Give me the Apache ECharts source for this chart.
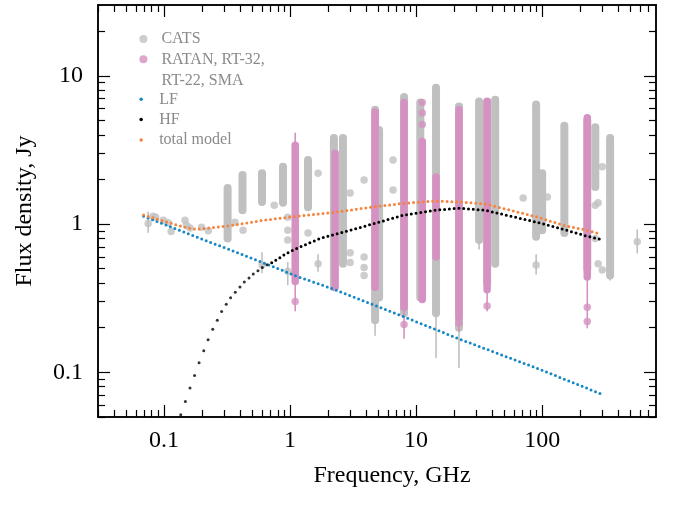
<!DOCTYPE html>
<html>
<head>
<meta charset="utf-8">
<script src="https://cdn.jsdelivr.net/npm/echarts@6/dist/echarts.min.js"></script>
<style>
  html, body { margin: 0; padding: 0; background: #fff; }
  #chart { width: 681px; height: 505px; }
</style>
</head>
<body>
<div id="chart"></div>
<script>
// axes
const xMajor = [0.1, 1, 10, 100]
const xTickLabels = ['0.1', '1', '10', '100']
const xMinor = [0.03, 0.04, 0.05, 0.06, 0.07, 0.08, 0.09, 0.2, 0.3, 0.4, 0.5, 0.6, 0.7, 0.8, 0.9,
  2, 3, 4, 5, 6, 7, 8, 9, 20, 30, 40, 50, 60, 70, 80, 90, 200, 300, 400, 500, 600, 700]
const yMajor = [0.1, 1, 10]
const yTickLabels = ['0.1', '1', '10']
const yMinor = [0.05, 0.06, 0.07, 0.08, 0.09, 0.2, 0.3, 0.4, 0.5, 0.6, 0.7, 0.8, 0.9,
  2, 3, 4, 5, 6, 7, 8, 9, 20]

// CATS: dense columns [GHz, low Jy, high Jy]
const catsCols = [
  [0.32, 0.80, 1.75], [0.42, 1.24, 2.14], [0.60, 1.41, 2.2], [0.88, 1.39, 2.43],
  [1.39, 1.30, 2.7], [2.23, 0.375, 3.8], [2.63, 0.54, 3.8], [4.73, 0.225, 5.9],
  [5.09, 0.32, 4.3], [8.03, 0.25, 7.2], [10.8, 0.32, 6.6], [14.4, 0.25, 8.3],
  [21.9, 0.20, 6.2], [31.6, 0.78, 6.7], [36.6, 0.40, 6.7], [42.4, 0.54, 6.9],
  [89.6, 0.82, 6.4], [100, 0.91, 2.2], [150, 0.87, 4.6], [228, 0.50, 5.0],
  [264, 1.78, 4.5], [346, 0.45, 3.8]
]
// CATS: single points [GHz, Jy]
const catsPts = [
  [0.075, 1.01], [0.082, 1.13], [0.086, 1.11], [0.099, 1.06], [0.108, 1.02], [0.114, 0.89],
  [0.147, 1.06], [0.151, 0.98], [0.161, 0.94], [0.199, 0.95], [0.225, 0.90],
  [0.366, 1.03], [0.424, 0.91], [0.60, 0.53], [0.75, 1.34], [0.96, 1.11], [0.96, 0.91],
  [0.96, 0.78], [0.96, 0.48], [1.39, 0.87], [1.67, 2.2], [1.67, 0.54], [3.0, 1.62],
  [3.0, 0.64], [3.0, 0.55], [3.87, 1.98], [3.87, 0.60], [3.87, 0.51], [3.87, 0.45],
  [6.57, 2.7], [6.57, 1.7], [70.7, 1.5], [110, 1.52], [89.6, 0.53], [264, 1.34],
  [264, 0.80], [278, 0.54], [300, 0.49], [300, 2.43], [278, 1.39], [568, 0.76]
]
// CATS: error bars [GHz, low, high]
const catsErr = [
  [0.075, 0.88, 1.2], [0.60, 0.47, 0.64], [0.96, 0.39, 0.55], [1.67, 0.48, 0.62],
  [4.73, 0.178, 0.25], [14.4, 0.126, 0.3], [21.9, 0.108, 0.25], [31.6, 0.68, 0.8],
  [89.6, 0.46, 0.62], [346, 0.42, 0.5], [568, 0.64, 0.91]
]

// RATAN, RT-32, RT-22, SMA
const ratanCols = [
  [1.1, 0.41, 3.4], [2.28, 0.375, 3.0], [4.73, 0.375, 5.7], [8.03, 0.275, 6.6],
  [11.2, 0.31, 3.6], [14.4, 0.60, 2.08], [21.9, 0.235, 5.9], [36.6, 0.36, 6.7],
  [228, 0.44, 5.2]
]
const ratanPts = [
  [1.1, 0.30], [8.03, 0.21], [11.2, 6.6], [11.2, 5.6], [11.2, 4.7],
  [36.6, 0.28], [228, 0.275], [228, 0.22], [21.9, 0.215]
]
const ratanErr = [
  [1.1, 0.26, 4.1], [8.03, 0.17, 0.28], [21.9, 0.19, 0.25], [36.6, 0.26, 0.36], [228, 0.2, 5.3]
]

// model curves [GHz, Jy]
const lfModel = [
  [0.069, 1.13], [0.18, 0.82], [0.33, 0.673], [0.61, 0.55], [1.13, 0.445], [2.3, 0.36],
  [8.0, 0.237], [22, 0.168], [98, 0.104], [288, 0.072]
]
// steep low-frequency part of HF, one entry per drawn dot
const hfSteep = [
  [0.136, 0.0518], [0.148, 0.0637], [0.161, 0.0783], [0.175, 0.0954], [0.190, 0.116],
  [0.207, 0.140], [0.224, 0.166], [0.244, 0.195], [0.265, 0.225], [0.287, 0.257],
  [0.312, 0.288], [0.338, 0.318], [0.368, 0.347], [0.401, 0.377], [0.434, 0.406],
  [0.473, 0.432], [0.511, 0.460], [0.557, 0.484], [0.603, 0.510], [0.657, 0.531]
]
const hfModel = [
  [0.716, 0.548], [0.94, 0.634], [1.13, 0.685], [1.73, 0.80], [3.4, 0.935], [8.0, 1.15],
  [14.4, 1.24], [22, 1.28], [35, 1.24], [90, 1.03], [148, 0.92], [225, 0.83], [288, 0.79]
]
const totalModel = [
  [0.069, 1.15], [0.099, 1.05], [0.14, 0.96], [0.18, 0.92], [0.23, 0.94], [0.32, 0.97],
  [0.61, 1.06], [1.13, 1.13], [2.08, 1.19], [4.7, 1.31], [8.0, 1.38], [14.4, 1.43],
  [22, 1.41], [35, 1.37], [90, 1.12], [148, 0.98], [225, 0.91], [288, 0.86]
]

const FONT = 'Liberation Serif'
const GRAY = '#c0c0c0'
const PINK = '#d591c1'
const BLUE = '#1688c6'
const ORANGE = '#f5843f'

const chart = echarts.init(document.getElementById('chart'))

const vSeg = (color, width) => (params, api) => {
  const a = api.coord([api.value(0), api.value(1)])
  const b = api.coord([api.value(0), api.value(2)])
  return {
    type: 'line',
    shape: { x1: a[0], y1: a[1], x2: b[0], y2: b[1] },
    style: { stroke: color, lineWidth: width, lineCap: 'round' }
  }
}

const mkAxis = (dim, pos, values, len, labels) => ({
  type: 'log',
  logBase: 10,
  min: dim === 'x' ? 0.03 : 0.05,
  max: dim === 'x' ? 800 : 30,
  position: pos,
  axisLine: { show: true, lineStyle: { color: '#000', width: 1.5 } },
  axisTick: { show: true, inside: true, length: len, customValues: values, lineStyle: { color: '#000', width: 1.2 } },
  minorTick: { show: false },
  splitLine: { show: false },
  axisLabel: labels ? {
    show: true,
    customValues: values,
    formatter: v => {
      const i = labels.v.indexOf(v)
      return i >= 0 ? labels.t[i] : String(v)
    },
    fontFamily: FONT, fontSize: 24, color: '#000', margin: dim === 'x' ? 12 : 15
  } : { show: false }
})

const xMain = mkAxis('x', 'bottom', xMajor, 12, { v: xMajor, t: xTickLabels })
xMain.name = 'Frequency, GHz'
xMain.nameLocation = 'middle'
xMain.nameGap = 47
xMain.nameMoveOverlap = false
xMain.nameTextStyle = { fontFamily: FONT, fontSize: 24, color: '#000', padding: [0, 0, 0, 30] }

const yMain = mkAxis('y', 'left', yMajor, 12, { v: yMajor, t: yTickLabels })
yMain.name = 'Flux density, Jy'
yMain.nameLocation = 'middle'
yMain.nameGap = 61
yMain.nameMoveOverlap = false
yMain.nameTextStyle = { fontFamily: FONT, fontSize: 24, color: '#000' }

const dotted = (name, data, color) => ({
  name, type: 'line', data, showSymbol: false, symbol: 'circle', z: 10,
  itemStyle: { color },
  lineStyle: { color, width: 3, type: [0, 4.8], cap: 'round' },
  clip: true, silent: true
})

const legendText = { fontFamily: FONT, fontSize: 16, lineHeight: 16, color: '#8a8a8a' }

chart.setOption({
  animation: false,
  backgroundColor: '#fff',
  grid: { left: 98, right: 25, top: 5, bottom: 88, containLabel: false, outerBoundsMode: 'none' },
  xAxis: [
    xMain,
    mkAxis('x', 'bottom', xMinor, 7),
    mkAxis('x', 'top', xMajor, 12),
    mkAxis('x', 'top', xMinor, 7)
  ],
  yAxis: [
    yMain,
    mkAxis('y', 'left', yMinor, 7),
    mkAxis('y', 'right', yMajor, 12),
    mkAxis('y', 'right', yMinor, 7)
  ],
  legend: [
    {
      orient: 'vertical', left: 139.4, top: 31, padding: 0,
      itemWidth: 26, itemHeight: 8, itemGap: 4.3, icon: 'circle', selectedMode: false,
      itemStyle: { borderWidth: 0 }, textStyle: legendText,
      data: ['CATS', 'RATAN, RT-32,']
    },
    {
      orient: 'vertical', left: 139.4, top: 91.3, padding: 0,
      itemWidth: 26, itemHeight: 3.5, itemGap: 4.3, icon: 'circle', selectedMode: false,
      itemStyle: { borderWidth: 0 }, textStyle: legendText,
      data: ['LF', 'HF', 'total model']
    }
  ],
  graphic: [{
    type: 'text', x: 161.5, y: 80.5,
    style: { text: 'RT-22, SMA', fontFamily: FONT, fontSize: 16, fill: '#8a8a8a', verticalAlign: 'middle' }
  }],
  series: [
    { type: 'custom', data: catsErr, renderItem: vSeg(GRAY, 1.6), encode: { x: 0, y: [1, 2] }, clip: true, silent: true, z: 1 },
    { type: 'custom', data: catsCols, renderItem: vSeg(GRAY, 8), encode: { x: 0, y: [1, 2] }, clip: true, silent: true, z: 2 },
    { name: 'CATS', type: 'scatter', data: catsPts, symbolSize: 7.5, itemStyle: { color: GRAY }, silent: true, z: 2 },
    { type: 'custom', data: ratanErr, renderItem: vSeg(PINK, 1.6), encode: { x: 0, y: [1, 2] }, clip: true, silent: true, z: 3 },
    { type: 'custom', data: ratanCols, renderItem: vSeg(PINK, 7.5), encode: { x: 0, y: [1, 2] }, clip: true, silent: true, z: 4 },
    { name: 'RATAN, RT-32,', type: 'scatter', data: ratanPts, symbolSize: 7.5, itemStyle: { color: PINK }, silent: true, z: 4 },
    dotted('LF', lfModel, BLUE),
    dotted('HF', hfModel, '#000000'),
    { type: 'scatter', data: hfSteep, symbolSize: 3, itemStyle: { color: '#000000' }, silent: true, z: 10 },
    dotted('total model', totalModel, ORANGE)
  ]
})
</script>
</body>
</html>
